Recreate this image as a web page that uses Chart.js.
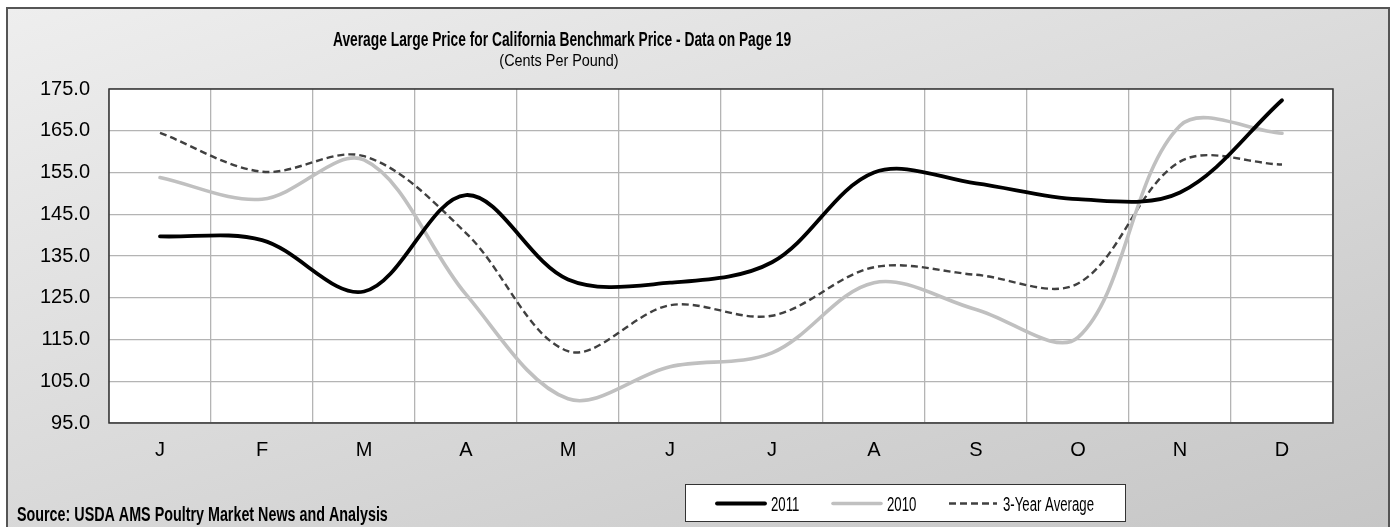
<!DOCTYPE html>
<html>
<head>
<meta charset="utf-8">
<title>Average Large Price for California Benchmark Price</title>
<script src="https://cdn.jsdelivr.net/npm/chart.js@4.4.1/dist/chart.umd.min.js"></script>
<style>
    html, body { margin: 0; padding: 0; background: #fff; }
    #wrap { position: relative; width: 1391px; height: 527px; }
</style>
</head>
<body>
<div id="wrap"><canvas id="priceChart"></canvas></div>
<script>
(function() {
    'use strict';

    // values (cents per pound)
    const months = ['J', 'F', 'M', 'A', 'M', 'J', 'J', 'A', 'S', 'O', 'N', 'D'];
    const price2011 = [139.7, 138.8, 126.5, 149.6, 129.4, 128.6, 133.5, 155.0, 152.4, 148.6, 150.2, 172.3];
    const price2010 = [153.8, 148.6, 158.0, 125.8, 100.8, 108.5, 111.8, 128.6, 122.2, 115.5, 166.2, 164.4];
    const avg3Year = [164.5, 155.2, 158.9, 140.5, 112.2, 123.2, 120.7, 132.3, 130.5, 128.4, 157.6, 156.9];

    const yMin = 95;
    const yMax = 175;
    const yStep = 10;

    const titleText = 'Average Large Price for California Benchmark Price - Data on Page 19';
    const subtitleText = '(Cents Per Pound)';
    const sourceText = 'Source: USDA AMS Poultry Market News and Analysis';

    const FONT = '"Liberation Sans", Arial, Helvetica, sans-serif';

    // condensed text, the original uses a narrow face
    function drawText(ctx, text, x, y, font, sx, align) {
        ctx.save();
        ctx.font = font;
        ctx.fillStyle = '#000';
        ctx.textBaseline = 'alphabetic';
        ctx.textAlign = 'left';
        const w = ctx.measureText(text).width * sx;
        const x0 = align === 'center' ? x - w / 2 : x;
        ctx.translate(x0, y);
        ctx.scale(sx, 1);
        ctx.fillText(text, 0, 0);
        ctx.restore();
    }

    const framePlugin = {
        id: 'frame',
        beforeDraw(chart) {
            const ctx = chart.ctx;
            const area = chart.chartArea;
            ctx.save();
            ctx.fillStyle = '#ffffff';
            ctx.fillRect(0, 0, chart.width, chart.height);

            const grad = ctx.createLinearGradient(7, 8, 289, 883);
            grad.addColorStop(0, '#eeeeee');
            grad.addColorStop(1, '#c6c6c6');
            ctx.fillStyle = grad;
            ctx.fillRect(7, 8, 1383, 530);
            ctx.strokeStyle = '#555555';
            ctx.lineWidth = 2;
            ctx.strokeRect(7, 8, 1382, 530);

            ctx.fillStyle = '#ffffff';
            ctx.fillRect(area.left, area.top, area.right - area.left, area.bottom - area.top);
            ctx.restore();
        },
        afterDraw(chart) {
            const ctx = chart.ctx;
            const area = chart.chartArea;
            ctx.save();
            ctx.strokeStyle = '#333333';
            ctx.lineWidth = 1.5;
            ctx.strokeRect(area.left, area.top, area.right - area.left, area.bottom - area.top);
            ctx.restore();

            drawText(ctx, titleText, 562, 46, 'bold 20px ' + FONT, 0.69, 'center');
            drawText(ctx, subtitleText, 559, 66, '16px ' + FONT, 0.9, 'center');
            drawText(ctx, sourceText, 17, 521, 'bold 20px ' + FONT, 0.716, 'left');

            // legend box
            ctx.save();
            ctx.fillStyle = '#ffffff';
            ctx.fillRect(685, 484, 440, 38);
            ctx.strokeStyle = '#333333';
            ctx.lineWidth = 1;
            ctx.strokeRect(685.5, 484.5, 440, 37);
            ctx.restore();

            chart.data.datasets.forEach(function(ds, i) {
                const x = 717 + i * 116;
                const y = 503.5;
                ctx.save();
                ctx.strokeStyle = ds.borderColor;
                ctx.lineWidth = ds.borderWidth;
                ctx.setLineDash(ds.borderDash || []);
                ctx.lineCap = ds.borderDash ? 'butt' : 'round';
                ctx.beginPath();
                ctx.moveTo(x, y);
                ctx.lineTo(x + 48, y);
                ctx.stroke();
                ctx.restore();
                drawText(ctx, ds.label, x + 54, 510.5, '20px ' + FONT, 0.66, 'left');
            });
        }
    };

    new Chart(document.getElementById('priceChart'), {
        type: 'line',
        data: {
            labels: months,
            datasets: [
                {
                    label: '2011',
                    data: price2011,
                    borderColor: '#000000',
                    borderWidth: 3.8,
                    borderCapStyle: 'round',
                    pointRadius: 0,
                    tension: 0.34
                },
                {
                    label: '2010',
                    data: price2010,
                    borderColor: '#c0c0c0',
                    borderWidth: 3.6,
                    borderCapStyle: 'round',
                    pointRadius: 0,
                    tension: 0.34
                },
                {
                    label: '3-Year Average',
                    data: avg3Year,
                    borderColor: '#404040',
                    borderWidth: 2.4,
                    borderDash: [7, 4],
                    pointRadius: 0,
                    tension: 0.34
                }
            ]
        },
        options: {
            responsive: true,
            maintainAspectRatio: false,
            animation: false,
            layout: { padding: { left: 0, top: 89, right: 58, bottom: 0 } },
            plugins: {
                legend: { display: false },
                title: { display: false },
                tooltip: { enabled: false }
            },
            scales: {
                x: {
                    offset: true,
                    grid: { offset: true, color: '#b4b4b4', lineWidth: 1.3, drawTicks: false },
                    border: { display: false },
                    ticks: { color: '#000', padding: 15, font: { family: FONT, size: 20 } },
                    afterFit: function(scale) { scale.height = 104; }
                },
                y: {
                    min: yMin,
                    max: yMax,
                    grid: { color: '#b4b4b4', lineWidth: 1.3, drawTicks: false },
                    border: { display: false },
                    ticks: {
                        stepSize: yStep,
                        color: '#000',
                        padding: 19,
                        font: { family: FONT, size: 20 },
                        callback: function(v) { return Number(v).toFixed(1); }
                    },
                    afterFit: function(scale) { scale.width = 109; }
                }
            }
        },
        plugins: [framePlugin]
    });
})();
</script>
</body>
</html>
